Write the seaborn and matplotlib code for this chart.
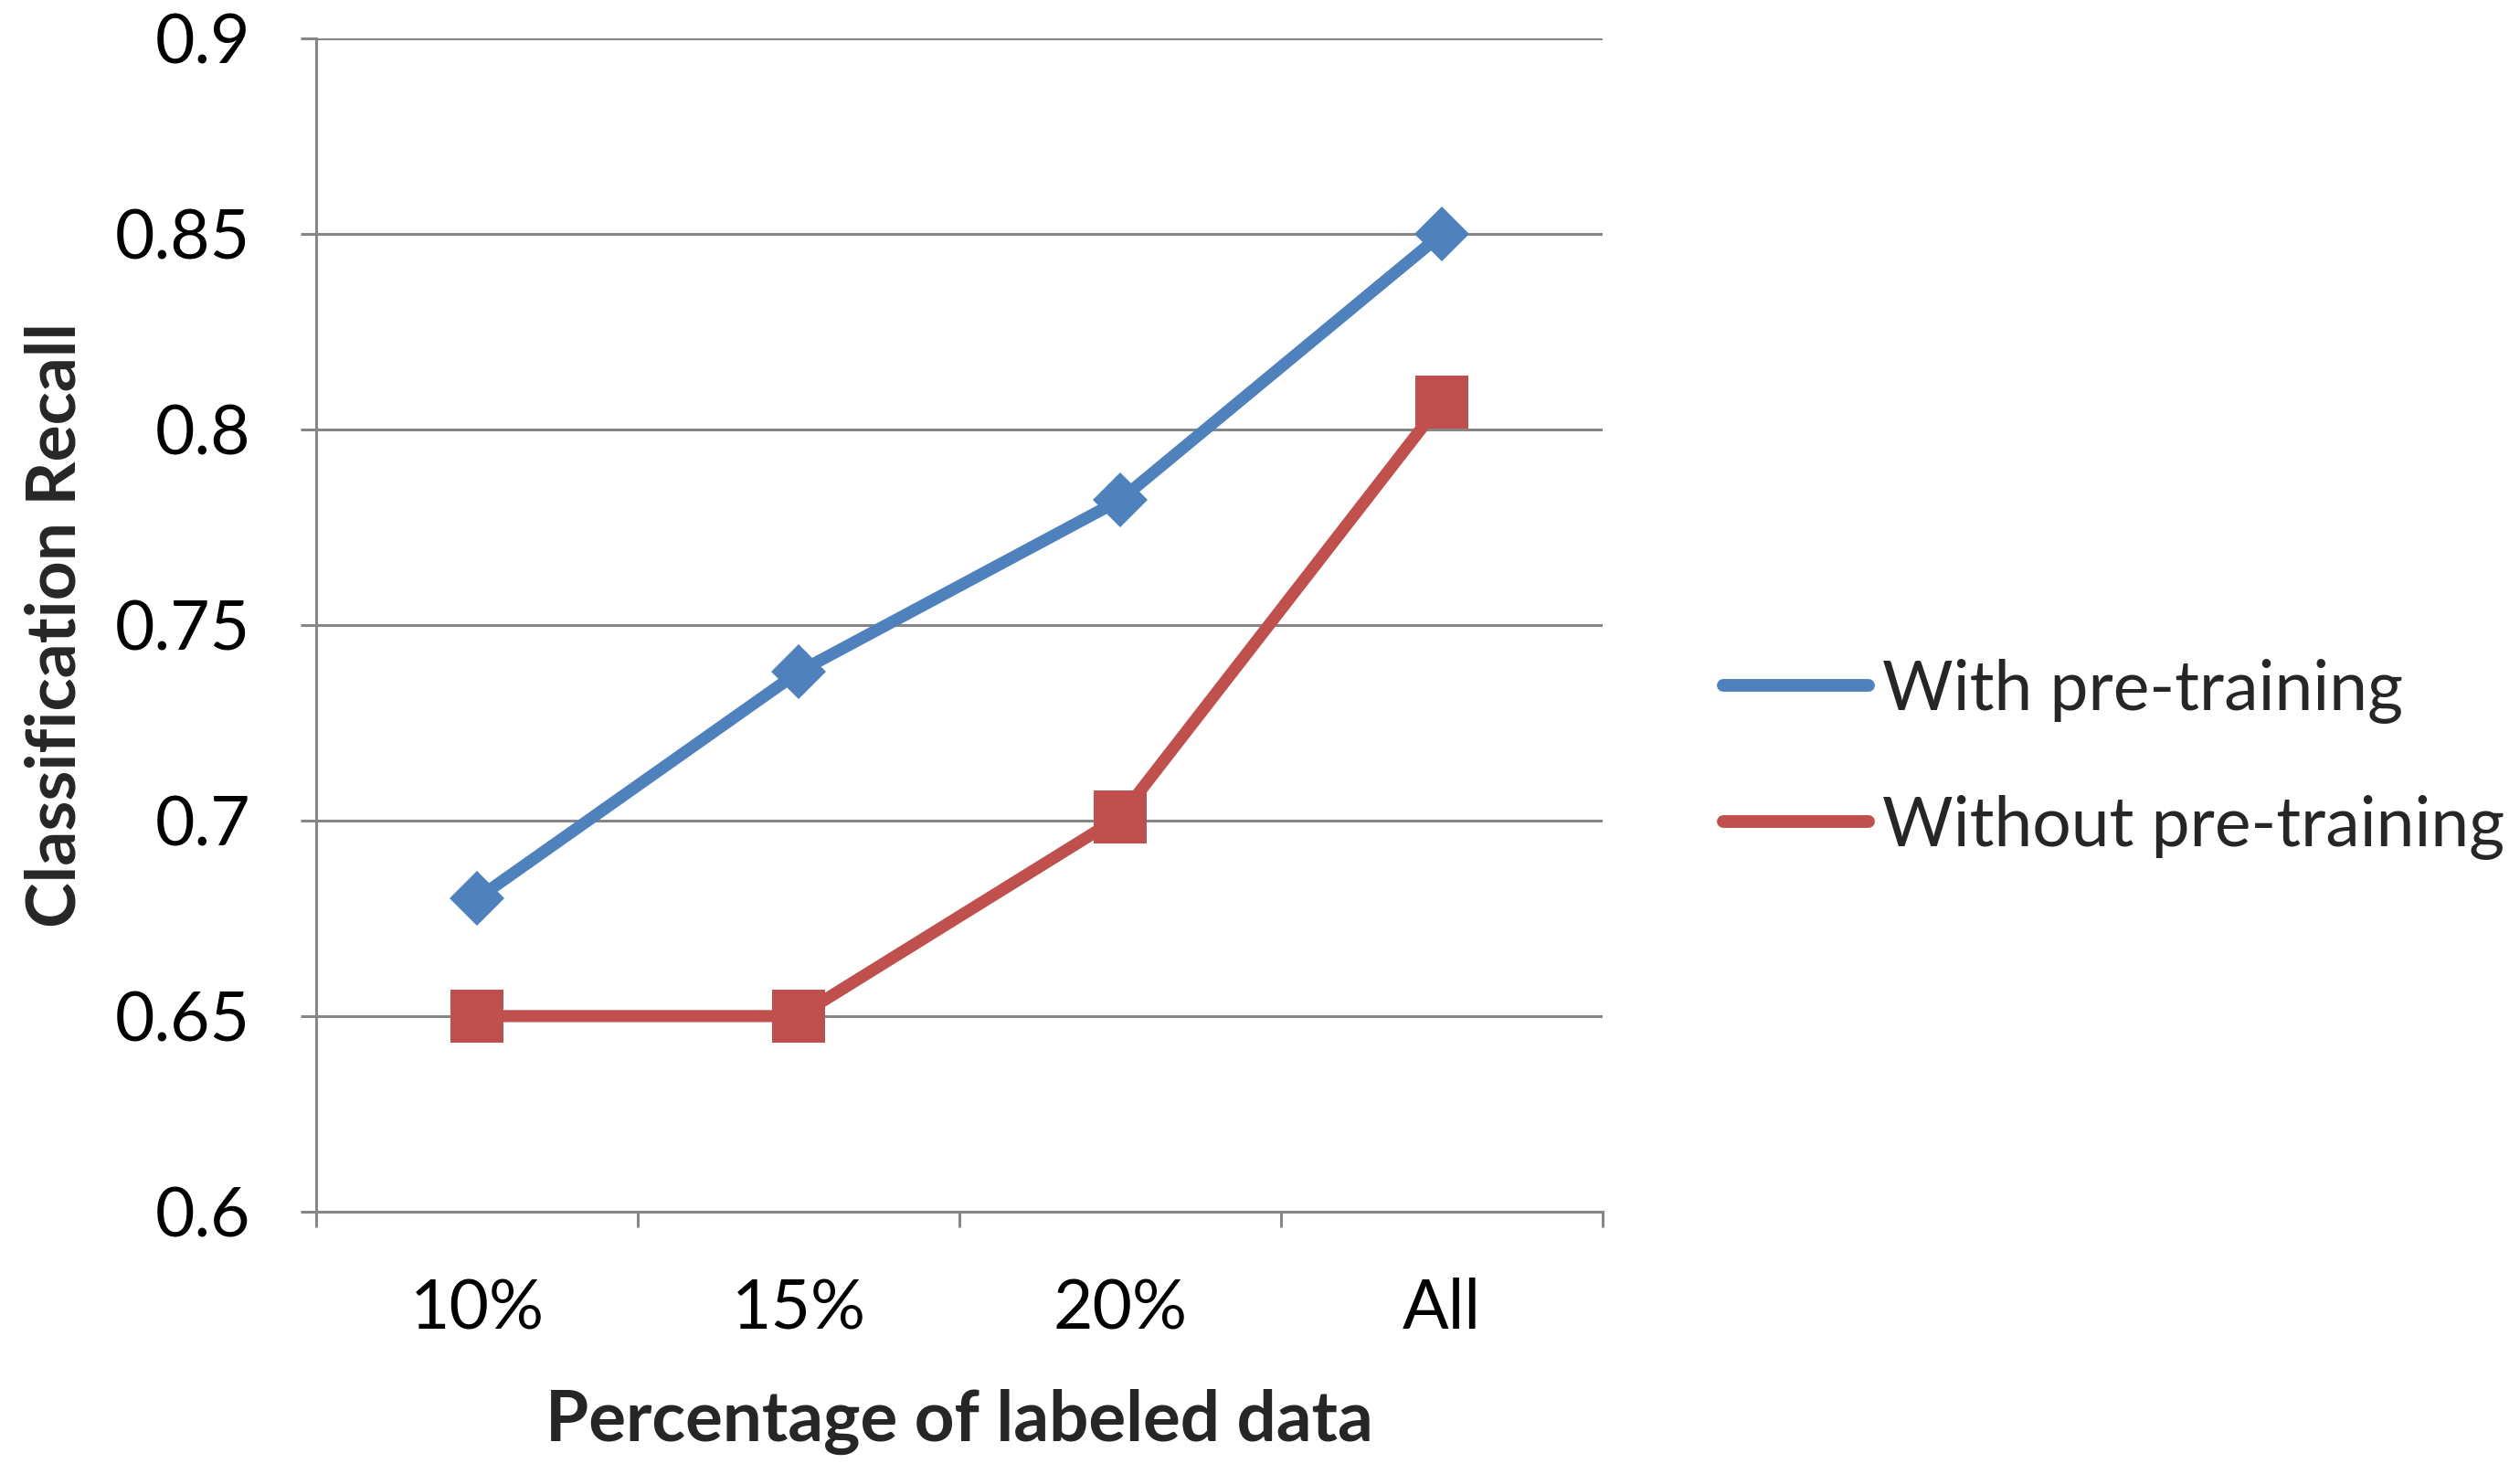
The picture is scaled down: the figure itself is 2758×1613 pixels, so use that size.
import matplotlib
matplotlib.use("Agg")
import matplotlib.pyplot as plt
from matplotlib.lines import Line2D
from matplotlib.ticker import FixedLocator, NullFormatter
import seaborn as sns
import pandas as pd

categories = ["10%", "15%", "20%", "All"]
with_pretraining = [0.680, 0.738, 0.782, 0.850]
without_pretraining = [0.650, 0.650, 0.701, 0.807]
series_names = ["With pre-training", "Without pre-training"]
y_ticks = [0.6, 0.65, 0.7, 0.75, 0.8, 0.85, 0.9]
y_tick_labels = ["0.6", "0.65", "0.7", "0.75", "0.8", "0.85", "0.9"]

BLUE = "#4F81BD"
RED = "#C0504D"
GRID = "#868686"

df = pd.DataFrame({
    "pct": categories * 2,
    "recall": with_pretraining + without_pretraining,
    "series": [series_names[0]] * 4 + [series_names[1]] * 4,
})

sns.set_theme(style="white")
plt.rcParams["font.family"] = ["Lato", "DejaVu Sans"]

fig = plt.figure(figsize=(27.58, 16.13), dpi=100)
ax = fig.add_axes([0.1255, 0.178, 0.5105, 0.796])

sns.lineplot(data=df, x="pct", y="recall", hue="series", style="series",
             markers=["D", "s"], dashes=False, palette=[BLUE, RED],
             linewidth=9.5, markersize=31, markeredgewidth=0, sort=False,
             ax=ax, legend=False, zorder=3)
lines = ax.get_lines()
if len(lines) >= 2:
    lines[1].set_markersize(42)

ax.set_xlim(-0.5, 3.5)
ax.set_ylim(0.6, 0.9)
ax.set_yticks(y_ticks)
ax.set_yticklabels(y_tick_labels)
ax.yaxis.grid(True, color=GRID, linewidth=2.2)
ax.xaxis.grid(False)
ax.set_axisbelow(True)

for s in ["top", "right"]:
    ax.spines[s].set_visible(False)
for s in ["left", "bottom"]:
    ax.spines[s].set_color(GRID)
    ax.spines[s].set_linewidth(2.2)

ax.tick_params(axis="y", which="major", length=12, width=2.2, color=GRID,
               labelsize=54, pad=40, left=True, labelcolor="black")
ax.xaxis.set_minor_locator(FixedLocator([-0.5, 0.5, 1.5, 2.5, 3.5]))
ax.xaxis.set_minor_formatter(NullFormatter())
ax.tick_params(axis="x", which="minor", length=12, width=2.2, color=GRID,
               bottom=True)
ax.tick_params(axis="x", which="major", length=0, labelsize=54, pad=52,
               labelcolor="black")

ax.set_xlabel("Percentage of labeled data", fontsize=55, fontweight="bold",
              labelpad=38)
ax.set_ylabel("Classification Recall", fontsize=54, fontweight="bold",
              labelpad=22)

handles = [Line2D([0], [0], color=BLUE, linewidth=10, solid_capstyle="round"),
           Line2D([0], [0], color=RED, linewidth=10, solid_capstyle="round")]
fig.legend(handles, series_names, loc="center left",
           bbox_to_anchor=(0.6837, 0.485), bbox_transform=fig.transFigure,
           frameon=False, fontsize=54, handlelength=2.13, handletextpad=0.2,
           labelspacing=1.04, borderpad=0, borderaxespad=0)

fig.savefig("out.png", dpi=100)
